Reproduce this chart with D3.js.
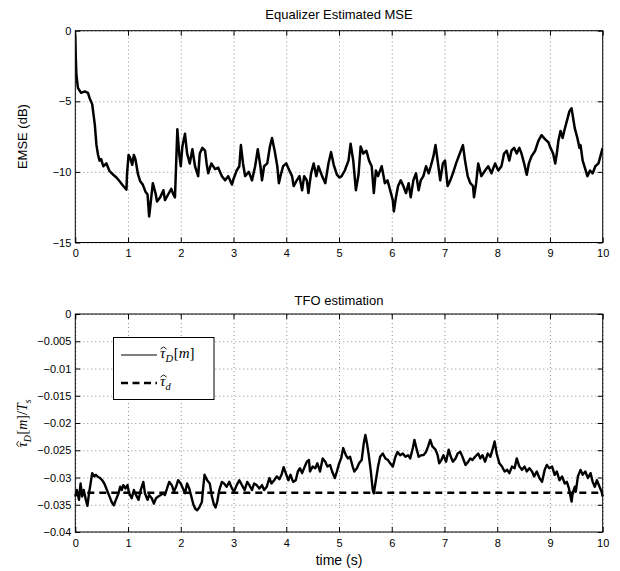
<!DOCTYPE html>
<html>
<head>
<meta charset="utf-8">
<script src="https://cdn.jsdelivr.net/npm/d3@7"></script>
<style>
  html, body { margin: 0; padding: 0; background: #fff; }
  svg { display: block; }
  text { font-family: "Liberation Sans", Arial, Helvetica, sans-serif; fill: #000; }
  text.math { font-family: "Liberation Serif", "Times New Roman", serif; }
</style>
</head>
<body>
<svg id="chart" width="620" height="571"></svg>
<script>
// ---------------- DATA ----------------
const xTicks = [0, 1, 2, 3, 4, 5, 6, 7, 8, 9, 10];
const xTickLabels = ["0", "1", "2", "3", "4", "5", "6", "7", "8", "9", "10"];

const mseTicks = [0, -5, -10, -15];
const mseTickLabels = ["0", "\u22125", "\u221210", "\u221215"];

const tfoTicks = [0, -0.005, -0.01, -0.015, -0.02, -0.025, -0.03, -0.035, -0.04];
const tfoTickLabels = ["0", "\u22120.005", "\u22120.01", "\u22120.015", "\u22120.02", "\u22120.025", "\u22120.03", "\u22120.035", "\u22120.04"];

const mseTime = [0,0.01,0.02,0.05,0.11,0.18,0.24,0.27,0.32,0.37,0.40,0.43,0.46,0.49,0.53,0.59,0.65,0.72,0.78,0.84,0.91,0.97,0.98,1.01,1.04,1.08,1.11,1.14,1.19,1.23,1.28,1.33,1.37,1.40,1.47,1.52,1.55,1.61,1.67,1.70,1.76,1.82,1.86,1.89,1.935,1.97,2.0,2.03,2.08,2.12,2.17,2.22,2.27,2.33,2.36,2.41,2.46,2.49,2.52,2.58,2.65,2.71,2.78,2.84,2.90,2.97,3.0,3.06,3.11,3.14,3.18,3.22,3.29,3.35,3.41,3.46,3.51,3.54,3.58,3.64,3.69,3.73,3.78,3.83,3.86,3.89,3.94,4.0,4.06,4.11,4.14,4.20,4.25,4.30,4.34,4.39,4.42,4.47,4.52,4.57,4.61,4.68,4.74,4.80,4.85,4.90,4.96,5.01,5.05,5.11,5.18,5.22,5.27,5.32,5.37,5.41,5.46,5.52,5.57,5.62,5.66,5.70,5.74,5.81,5.87,5.92,5.97,6.02,6.04,6.08,6.12,6.17,6.22,6.27,6.32,6.36,6.41,6.46,6.51,6.55,6.60,6.65,6.70,6.74,6.79,6.83,6.87,6.92,6.97,7.01,7.06,7.11,7.16,7.22,7.29,7.35,7.39,7.44,7.49,7.54,7.56,7.60,7.64,7.70,7.77,7.83,7.89,7.96,8.02,8.08,8.13,8.18,8.23,8.27,8.32,8.37,8.42,8.46,8.51,8.56,8.60,8.65,8.72,8.78,8.84,8.91,8.97,9.01,9.06,9.10,9.13,9.16,9.20,9.24,9.27,9.32,9.37,9.41,9.44,9.47,9.52,9.56,9.58,9.62,9.67,9.71,9.76,9.81,9.86,9.92,9.97,10.0];
const mseValue = [-0.3,-2.0,-3.1,-4.06,-4.4,-4.3,-4.4,-4.76,-5.2,-6.65,-8.07,-8.77,-9.2,-9.1,-9.6,-9.4,-9.95,-10.2,-10.4,-10.66,-11.0,-11.25,-10.2,-8.8,-9.0,-9.5,-8.8,-9.1,-10.2,-10.66,-10.9,-11.4,-11.6,-13.16,-10.8,-11.5,-12.1,-11.8,-11.3,-12.0,-11.6,-11.2,-11.6,-11.8,-6.98,-8.7,-9.6,-8.2,-7.3,-8.7,-9.4,-8.4,-9.6,-10.3,-8.7,-8.3,-8.5,-9.4,-10.1,-9.4,-9.8,-9.7,-10.3,-10.6,-10.3,-10.9,-10.5,-9.9,-9.6,-8.1,-9.4,-10.3,-10.0,-10.6,-9.6,-8.4,-9.6,-10.6,-9.6,-9.4,-8.2,-7.6,-8.5,-9.6,-10.8,-10.3,-9.6,-9.4,-9.9,-10.3,-11.0,-10.6,-10.3,-11.3,-10.3,-10.6,-11.5,-10.1,-9.4,-10.3,-9.6,-10.3,-10.8,-9.4,-8.6,-9.5,-10.2,-10.4,-10.3,-9.9,-9.2,-8.0,-9.2,-11.3,-10.2,-8.2,-8.7,-8.5,-9.2,-9.6,-11.5,-9.9,-10.3,-9.6,-10.8,-10.6,-11.3,-12.0,-12.8,-11.8,-11.0,-10.6,-11.0,-11.5,-10.8,-11.8,-10.6,-10.1,-11.3,-10.6,-10.3,-9.6,-10.1,-9.6,-8.9,-8.1,-9.2,-10.6,-9.4,-9.2,-11.0,-10.6,-10.1,-9.4,-8.7,-8.1,-9.2,-10.3,-10.8,-11.0,-11.8,-10.8,-9.4,-10.3,-9.9,-9.6,-10.1,-9.4,-9.9,-9.6,-8.7,-8.5,-9.2,-8.5,-8.3,-8.7,-8.3,-8.7,-9.4,-10.2,-9.4,-8.9,-8.5,-7.8,-7.4,-7.7,-7.9,-8.3,-8.7,-9.4,-8.7,-7.8,-7.1,-7.6,-7.1,-6.4,-5.7,-5.5,-6.2,-6.9,-7.6,-8.3,-8.1,-9.2,-9.8,-10.3,-9.9,-10.1,-9.6,-9.4,-8.7,-8.3];

const tfoTime = [0,0.03,0.07,0.10,0.13,0.16,0.20,0.23,0.26,0.29,0.32,0.36,0.39,0.42,0.47,0.51,0.55,0.60,0.65,0.69,0.73,0.77,0.82,0.85,0.88,0.91,0.95,0.99,1.02,1.07,1.11,1.15,1.20,1.24,1.29,1.32,1.37,1.40,1.45,1.49,1.53,1.57,1.62,1.66,1.70,1.74,1.78,1.83,1.87,1.91,1.95,2.00,2.04,2.08,2.12,2.16,2.20,2.24,2.28,2.31,2.35,2.40,2.42,2.45,2.50,2.55,2.59,2.63,2.66,2.69,2.73,2.78,2.82,2.87,2.92,2.97,3.01,3.06,3.11,3.16,3.21,3.26,3.30,3.35,3.39,3.44,3.49,3.54,3.58,3.63,3.68,3.72,3.77,3.82,3.87,3.91,3.95,3.99,4.04,4.08,4.13,4.18,4.22,4.26,4.30,4.35,4.39,4.43,4.45,4.50,4.55,4.59,4.64,4.69,4.74,4.78,4.83,4.87,4.92,4.96,5.00,5.04,5.08,5.13,5.17,5.21,5.26,5.29,5.34,5.38,5.43,5.47,5.50,5.53,5.56,5.60,5.64,5.66,5.69,5.74,5.78,5.83,5.88,5.93,5.97,6.02,6.07,6.11,6.16,6.21,6.26,6.31,6.35,6.40,6.43,6.46,6.51,6.56,6.60,6.65,6.69,6.73,6.77,6.83,6.87,6.90,6.94,6.98,7.03,7.08,7.12,7.16,7.21,7.25,7.30,7.34,7.40,7.45,7.49,7.53,7.58,7.64,7.68,7.72,7.77,7.82,7.87,7.91,7.95,7.99,8.04,8.09,8.14,8.19,8.23,8.28,8.33,8.37,8.42,8.47,8.52,8.56,8.61,8.66,8.70,8.75,8.80,8.85,8.90,8.94,8.99,9.04,9.09,9.13,9.18,9.23,9.28,9.32,9.36,9.39,9.41,9.43,9.47,9.49,9.53,9.58,9.62,9.67,9.72,9.77,9.81,9.85,9.89,9.94,9.98,10.0];
const tfoValue = [-0.0335,-0.0323,-0.0341,-0.0311,-0.0335,-0.0323,-0.0341,-0.0352,-0.0329,-0.0311,-0.0292,-0.0298,-0.0295,-0.0298,-0.0301,-0.0305,-0.0311,-0.0323,-0.0335,-0.0345,-0.0351,-0.0341,-0.0329,-0.0317,-0.0323,-0.0314,-0.0320,-0.0314,-0.0329,-0.0338,-0.0323,-0.0332,-0.0341,-0.0323,-0.0308,-0.0329,-0.0341,-0.0332,-0.0338,-0.0348,-0.0338,-0.0335,-0.0332,-0.0329,-0.0332,-0.0320,-0.0308,-0.0314,-0.0326,-0.0317,-0.0305,-0.0311,-0.0320,-0.0329,-0.0311,-0.0320,-0.0335,-0.0350,-0.0358,-0.0360,-0.0355,-0.0345,-0.0323,-0.0295,-0.0305,-0.0311,-0.0335,-0.0350,-0.0355,-0.0345,-0.0323,-0.0308,-0.0311,-0.0317,-0.0308,-0.0320,-0.0326,-0.0314,-0.0305,-0.0314,-0.0323,-0.0308,-0.0314,-0.0323,-0.0311,-0.0314,-0.0320,-0.0314,-0.0323,-0.0317,-0.0301,-0.0311,-0.0305,-0.0298,-0.0303,-0.0295,-0.0281,-0.0292,-0.0305,-0.0295,-0.0308,-0.0305,-0.0289,-0.0283,-0.0292,-0.0280,-0.0271,-0.0268,-0.0289,-0.0280,-0.0283,-0.0274,-0.0289,-0.0265,-0.0271,-0.0280,-0.0277,-0.0289,-0.0301,-0.0289,-0.0275,-0.0265,-0.0246,-0.0259,-0.0265,-0.0262,-0.0280,-0.0289,-0.0283,-0.0274,-0.0268,-0.0237,-0.0222,-0.0237,-0.0256,-0.0286,-0.0323,-0.0329,-0.0311,-0.0280,-0.0262,-0.0256,-0.0265,-0.0268,-0.0274,-0.0280,-0.0262,-0.0253,-0.0259,-0.0256,-0.0262,-0.0259,-0.0265,-0.0246,-0.0231,-0.0243,-0.0262,-0.0259,-0.0259,-0.0253,-0.0243,-0.0231,-0.0243,-0.0249,-0.0259,-0.0274,-0.0268,-0.0259,-0.0271,-0.0249,-0.0262,-0.0271,-0.0265,-0.0256,-0.0253,-0.0262,-0.0277,-0.0271,-0.0265,-0.0268,-0.0262,-0.0256,-0.0265,-0.0259,-0.0271,-0.0256,-0.0262,-0.0249,-0.0234,-0.0256,-0.0274,-0.0280,-0.0289,-0.0286,-0.0292,-0.0280,-0.0283,-0.0265,-0.0280,-0.0286,-0.0280,-0.0289,-0.0283,-0.0289,-0.0298,-0.0289,-0.0301,-0.0308,-0.0286,-0.0277,-0.0283,-0.0280,-0.0295,-0.0289,-0.0305,-0.0298,-0.0311,-0.0308,-0.0320,-0.0335,-0.0344,-0.0329,-0.0317,-0.0326,-0.0298,-0.0286,-0.0295,-0.0289,-0.0301,-0.0292,-0.0308,-0.0317,-0.0305,-0.0317,-0.0326,-0.0335];

const tauD = -0.0328;

const mseTitle = "Equalizer Estimated MSE";
const tfoTitle = "TFO estimation";
const mseYLabel = "EMSE (dB)";
const xLabel = "time (s)";

// ---------------- LAYOUT ----------------
const svg = d3.select("#chart");
const L = 75.3, R = 602.7;
const p1 = { top: 30.7, bottom: 242.5 };
const p2 = { top: 314, bottom: 532 };

const x = d3.scaleLinear().domain([0, 10]).range([L, R]);
const y1 = d3.scaleLinear().domain([-15, 0]).range([p1.bottom, p1.top]);
const y2 = d3.scaleLinear().domain([-0.04, 0]).range([p2.bottom, p2.top]);

function panel(y, p, yTicks, yLabels) {
  const g = svg.append("g");
  const w = R - L, h = p.bottom - p.top;
  const grid = g.append("g");
  grid.append("g").attr("transform", `translate(0,${p.bottom})`)
    .call(d3.axisBottom(x).tickValues(xTicks).tickSize(-h).tickFormat(""))
    .call(s => s.select(".domain").remove());
  grid.append("g").attr("transform", `translate(${L},0)`)
    .call(d3.axisLeft(y).tickValues(yTicks).tickSize(-w).tickFormat(""))
    .call(s => s.select(".domain").remove());
  grid.selectAll("line").attr("stroke", "#444").attr("stroke-width", 0.6).attr("stroke-dasharray", "1,3");

  const ax = g.append("g");
  ax.append("g").attr("transform", `translate(0,${p.bottom})`)
    .call(d3.axisBottom(x).tickValues(xTicks).tickSizeInner(-5).tickSizeOuter(0).tickPadding(7)
      .tickFormat((d, i) => xTickLabels[i]));
  ax.append("g").attr("transform", `translate(0,${p.top})`)
    .call(d3.axisTop(x).tickValues(xTicks).tickSizeInner(-5).tickSizeOuter(0).tickFormat(""));
  ax.append("g").attr("transform", `translate(${L},0)`)
    .call(d3.axisLeft(y).tickValues(yTicks).tickSizeInner(-5).tickSizeOuter(0).tickPadding(4)
      .tickFormat((d, i) => yLabels[i]));
  ax.append("g").attr("transform", `translate(${R},0)`)
    .call(d3.axisRight(y).tickValues(yTicks).tickSizeInner(-5).tickSizeOuter(0).tickFormat(""));
  ax.selectAll(".domain").remove();
  ax.selectAll(".tick line").attr("stroke", "#000").attr("stroke-width", 1);
  ax.selectAll(".tick text").attr("font-family", "'Liberation Sans', Arial, sans-serif")
    .attr("font-size", 11).attr("fill", "#000");
  return g;
}

panel(y1, p1, mseTicks, mseTickLabels);
panel(y2, p2, tfoTicks, tfoTickLabels);

// MSE line
const mseData = mseTime.map((t, i) => [t, mseValue[i]]);
svg.append("clipPath").attr("id", "c1").append("rect")
  .attr("x", L).attr("y", p1.top).attr("width", R - L).attr("height", p1.bottom - p1.top);
svg.append("path").datum(mseData)
  .attr("clip-path", "url(#c1)")
  .attr("fill", "none").attr("stroke", "#000").attr("stroke-width", 2.5).attr("stroke-linejoin", "round")
  .attr("d", d3.line().x(d => x(d[0])).y(d => y1(d[1])));

// TFO lines
const tfoData = tfoTime.map((t, i) => [t, tfoValue[i]]);
svg.append("path").datum([[0, tauD], [10, tauD]])
  .attr("fill", "none").attr("stroke", "#000").attr("stroke-width", 2.4).attr("stroke-dasharray", "7,5")
  .attr("d", d3.line().x(d => x(d[0])).y(d => y2(d[1])));
svg.append("path").datum(tfoData)
  .attr("fill", "none").attr("stroke", "#000").attr("stroke-width", 2.4).attr("stroke-linejoin", "round")
  .attr("d", d3.line().x(d => x(d[0])).y(d => y2(d[1])));

// Frames
[p1, p2].forEach(p => {
  svg.append("rect").attr("x", L).attr("y", p.top).attr("width", R - L).attr("height", p.bottom - p.top)
    .attr("fill", "none").attr("stroke", "#000").attr("stroke-width", 1);
});

// Titles and labels
svg.append("text").attr("x", (L + R) / 2).attr("y", 19).attr("text-anchor", "middle")
  .attr("font-size", 13).text(mseTitle);
svg.append("text").attr("x", (L + R) / 2).attr("y", 305).attr("text-anchor", "middle")
  .attr("font-size", 13).text(tfoTitle);
svg.append("text").attr("x", (L + R) / 2).attr("y", 565).attr("text-anchor", "middle")
  .attr("font-size", 14).text(xLabel);
svg.append("text").attr("transform", `translate(27,${(p1.top + p1.bottom) / 2}) rotate(-90)`)
  .attr("text-anchor", "middle").attr("font-size", 13).text(mseYLabel);

// math text builder: parts are {t, it, sub, hat}
function mathText(g, parts, size) {
  let cx = 0;
  parts.forEach(p => {
    const fs = p.sub ? size * 0.7 : size;
    const dy = p.sub ? size * 0.28 : 0;
    const t = g.append("text").attr("class", "math").attr("x", cx).attr("y", dy)
      .attr("font-size", fs).attr("font-style", p.it ? "italic" : "normal").text(p.t);
    const w = t.node().getComputedTextLength();
    if (p.hat) {
      const hx = cx + w * 0.55 + size * 0.04, hy = -size * 0.6, hw = size * 0.2, hh = size * 0.14;
      g.append("path").attr("d", `M${hx - hw},${hy} L${hx},${hy - hh} L${hx + hw},${hy}`)
        .attr("fill", "none").attr("stroke", "#000").attr("stroke-width", size * 0.06);
    }
    cx += w + (p.sub ? size * 0.05 : 0);
  });
  return cx;
}

const partsD = [{ t: "\u03C4", it: true, hat: true }, { t: "D", it: true, sub: true },
  { t: "[", it: false }, { t: "m", it: true }, { t: "]", it: false }];
const partsY = partsD.concat([{ t: "/", it: false }, { t: "T", it: true }, { t: "s", it: true, sub: true }]);
const partsd = [{ t: "\u03C4", it: true, hat: true }, { t: "d", it: true, sub: true }];

// bottom y-label (rotated)
const ylg = svg.append("g");
const ylInner = ylg.append("g");
const ylW = mathText(ylInner, partsY, 14);
ylInner.attr("transform", `translate(${-ylW / 2},0)`);
ylg.attr("transform", `translate(27,${(p2.top + p2.bottom) / 2}) rotate(-90)`);

// Legend
const lg = svg.append("g");
lg.append("rect").attr("x", 113.5).attr("y", 337.5).attr("width", 100.5).attr("height", 62)
  .attr("fill", "#fff").attr("stroke", "#000").attr("stroke-width", 1);
lg.append("line").attr("x1", 121).attr("x2", 157).attr("y1", 355).attr("y2", 355)
  .attr("stroke", "#000").attr("stroke-width", 1);
lg.append("line").attr("x1", 121).attr("x2", 157).attr("y1", 383).attr("y2", 383)
  .attr("stroke", "#000").attr("stroke-width", 2.4).attr("stroke-dasharray", "7,4.5");
mathText(lg.append("g").attr("transform", "translate(160,358)"), partsD, 15);
mathText(lg.append("g").attr("transform", "translate(160,386)"), partsd, 15);
</script>
</body>
</html>
